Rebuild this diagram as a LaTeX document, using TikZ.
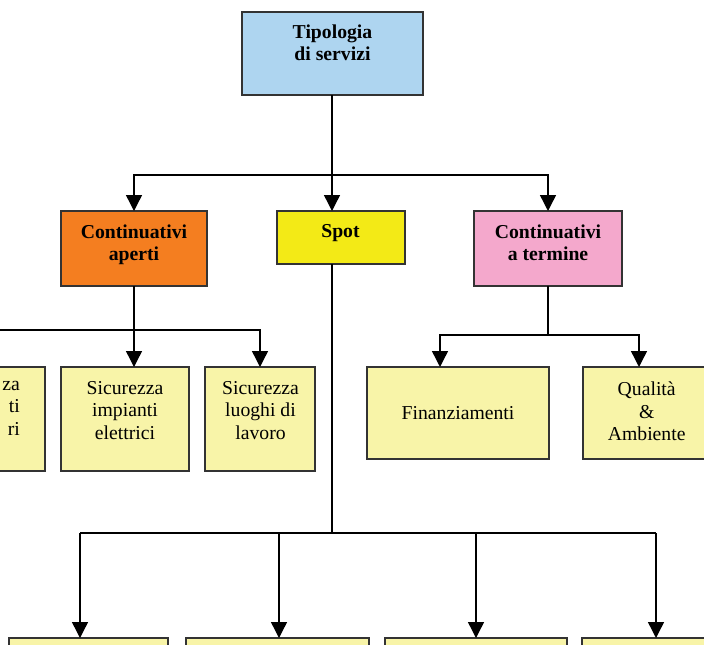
\documentclass[tikz,border=0pt]{standalone}
\usepackage{fontspec}
\setmainfont{Liberation Serif}
\usetikzlibrary{arrows.meta}
\definecolor{cblue}{HTML}{AED5F0}
\definecolor{corange}{HTML}{F47E20}
\definecolor{cyellow}{HTML}{F3EA16}
\definecolor{cpink}{HTML}{F4A8CC}
\definecolor{cpale}{HTML}{F8F4A8}
\begin{document}
\begin{tikzpicture}[x=1pt,y=-1pt,
  box/.style={draw=black!80, line width=1.1pt, inner sep=0pt, outer sep=0pt, anchor=north west},
  lbl/.style={anchor=north, inner sep=0pt, align=center, font=\fontsize{19.7}{22.5}\selectfont},
  blbl/.style={lbl, font=\fontsize{19.7}{22}\selectfont\bfseries},
  conn/.style={line width=1.4pt},
  arr/.style={conn, -{Triangle[width=16pt,length=16pt]}}]
\useasboundingbox (0,0) rectangle (704,645);
\clip (0,0) rectangle (704,645);
% boxes
\node[box, fill=cblue, minimum width=181, minimum height=83] (tip) at (242,12) {};
\node[box, fill=corange, minimum width=146, minimum height=75] (aperti) at (61,211) {};
\node[box, fill=cyellow, minimum width=128, minimum height=53] (spot) at (277,211) {};
\node[box, fill=cpink, minimum width=148, minimum height=75] (termine) at (474,211) {};
\node[box, fill=cpale, minimum width=135, minimum height=104] (lclip) at (-90,367) {};
\node[box, fill=cpale, minimum width=128, minimum height=104] (impianti) at (61,367) {};
\node[box, fill=cpale, minimum width=110, minimum height=104] (luoghi) at (205,367) {};
\node[box, fill=cpale, minimum width=182, minimum height=92] (fin) at (367,367) {};
\node[box, fill=cpale, minimum width=150, minimum height=92] (qual) at (583,367) {};
\node[box, fill=cpale, minimum width=159, minimum height=60] (b1) at (9,638) {};
\node[box, fill=cpale, minimum width=183, minimum height=60] (b2) at (186,638) {};
\node[box, fill=cpale, minimum width=182, minimum height=60] (b3) at (385,638) {};
\node[box, fill=cpale, minimum width=150, minimum height=60] (b4) at (582,638) {};
% texts
\node[blbl] (ttip) at (332.5,24.3) {Tipologia\\di servizi};
\node[blbl] (taperti) at (134,225) {Continuativi\\aperti};
\node[blbl] (tspot) at (340.5,224.3) {Spot};
\node[blbl] (ttermine) at (548,225) {Continuativi\\a termine};
\node[lbl, anchor=north east, align=right] (tlclip) at (20,380.6) {za\\ti\\ri};
\node[lbl] (timpianti) at (125,381) {Sicurezza\\impianti\\elettrici};
\node[lbl] (tluoghi) at (260.5,381) {Sicurezza\\luoghi di\\lavoro};
\node[lbl] (tfin) at (458,406.6) {Finanziamenti};
\node[lbl] (tqual) at (646.7,381.8) {Qualità\\\&\\Ambiente};
% connectors
\coordinate (j1) at (332,175);
\draw[conn] (j1 |- tip.south) -- (j1);
\draw[arr] (j1) -| (aperti.north);
\draw[arr] (j1) -| (termine.north);
\draw[arr] (j1) -- (j1 |- spot.north);
\coordinate (j2) at (134,330);
\coordinate (lend) at (-5,330);
\draw[conn] (aperti.south) -- (j2);
\draw[conn] (j2) -- (lend);
\draw[arr] (j2) -- (j2 |- impianti.north);
\draw[arr] (j2) -| (luoghi.north);
\coordinate (j3) at (548,335);
\coordinate (fa) at (440,335);
\coordinate (qa) at (639,335);
\draw[conn] (termine.south) -- (j3);
\draw[arr] (j3) -- (fa) -- (fa |- fin.north);
\draw[arr] (j3) -- (qa) -- (qa |- qual.north);
\coordinate (j4) at (332,533);
\draw[conn] (j1 |- spot.south) -- (j4);
\coordinate (ba1) at (80,533);
\coordinate (ba2) at (279,533);
\coordinate (ba3) at (476,533);
\coordinate (ba4) at (656,533);
\draw[conn] (ba1) -- (ba4);
\draw[arr] (ba1) -- (ba1 |- b1.north);
\draw[arr] (ba2) -- (ba2 |- b2.north);
\draw[arr] (ba3) -- (ba3 |- b3.north);
\draw[arr] (ba4) -- (ba4 |- b4.north);
\end{tikzpicture}
\end{document}
